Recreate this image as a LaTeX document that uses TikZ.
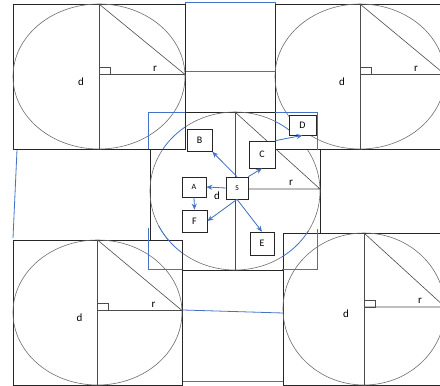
\documentclass[tikz,border=0pt]{standalone}
\usepackage{fontspec}
\setmainfont{Carlito}
\usetikzlibrary{arrows.meta}
\definecolor{selblue}{HTML}{4472C4}
\definecolor{rimgray}{HTML}{6E6E6E}
\newcommand{\roundpanel}[4]{%
  \pgfmathsetmacro\pcx{(#1+#3)/2}%
  \pgfmathsetmacro\pcy{(#2+#4)/2}%
  \pgfmathsetmacro\prx{(#3-#1)/2}%
  \pgfmathsetmacro\pry{(#4-#2)/2}%
  \draw[panel] (#1,#2) rectangle (#3,#4);
  \draw[rim] (\pcx,\pcy) ellipse [x radius=\prx pt, y radius=\pry pt];
  \draw[spoke] (\pcx,#2) -- (\pcx,#4);
  \draw[spoke] (\pcx,\pcy-2) -- (#3,\pcy-2) -- (\pcx,#2);
  \draw[spoke] (\pcx,\pcy-2) rectangle ++(11,-7);
  \node[tag] at (\pcx+56,\pcy-8) {r};
  \node[tag] at (\pcx-18,\pcy+5) {d};}

\begin{document}
\begin{tikzpicture}[x=1pt, y=-1pt, >={Stealth[length=6pt, width=5pt]},
    panel/.style={draw=black!85, line width=0.7pt, fill=white},
    rim/.style={draw=rimgray, line width=0.6pt},
    spoke/.style={draw=black!70, line width=0.6pt},
    tag/.style={inner sep=0pt, font=\fontsize{11}{13}\selectfont},
    frame/.style={draw=selblue, line width=0.8pt},
    box/.style={draw=black!85, line width=0.7pt, fill=white, inner sep=0pt,
      minimum width=25pt, minimum height=22pt, font=\fontsize{10}{12}\selectfont},
    link/.style={->, draw=selblue, fill=selblue, line width=0.8pt}]
  \useasboundingbox (0,0) rectangle (440,386);
  \clip (0,0) rectangle (440,386);

  % frames between the pictures
  \draw[frame] (185,2) rectangle (275,71);
  \draw[frame] (183,310) -- (283,313);
  \draw[frame] (183,381) -- (283,381);
  \draw[frame] (17,150) -- (13,238);

  % middle picture, then the four corner pictures over it
  \roundpanel{150}{112}{320}{270}
  \roundpanel{13}{4}{185}{149}
  \roundpanel{275}{4}{445}{149}
  \roundpanel{13}{240}{182}{385}
  \roundpanel{283}{233}{445}{385}

  % outline of the hidden corners
  \begin{scope}
    \clip (0,0) rectangle (185,149) (275,0) rectangle (440,150)
      (0,228) rectangle (182,386) (282,229) rectangle (440,386);
    \draw[frame] (148,112) rectangle (317,269);
  \end{scope}
  \begin{scope}
    \clip (0,0) rectangle (185,149) (275,0) rectangle (440,134)
      (0,226) rectangle (182,386) (282,231) rectangle (440,386);
    \draw[frame] (235,191) ellipse [x radius=85pt, y radius=79pt];
  \end{scope}

  \node[box] (B) at (199.5,140.5) {B};
  \node[box, minimum width=26pt, minimum height=27pt] (C) at (262,154.5) {C};
  \node[box, minimum width=27pt, minimum height=20pt] (D) at (302.5,125) {D};
  \node[box, minimum width=24pt, minimum height=20pt,
    font=\fontsize{8}{10}\selectfont] (A) at (194,187) {A};
  \node[box, minimum width=22pt, font=\fontsize{7.5}{9}\selectfont] (S) at (237,188) {S};
  \node[box] (F) at (194.5,221) {F};
  \node[box, minimum width=24pt, minimum height=23pt] (E) at (262,243.5) {E};

  \draw[link] (S.north) -- (B.south east);
  \draw[link] (S.north east) -- (C.south);
  \draw[link] (S.west) -- (A.east);
  \draw[link] (A.south) -- (F.north);
  \draw[link] (S.south) -- (F.east);
  \draw[link] (S.south) -- (E.north);
  \draw[link] (C.north east) -- (D.south);
\end{tikzpicture}
\end{document}
